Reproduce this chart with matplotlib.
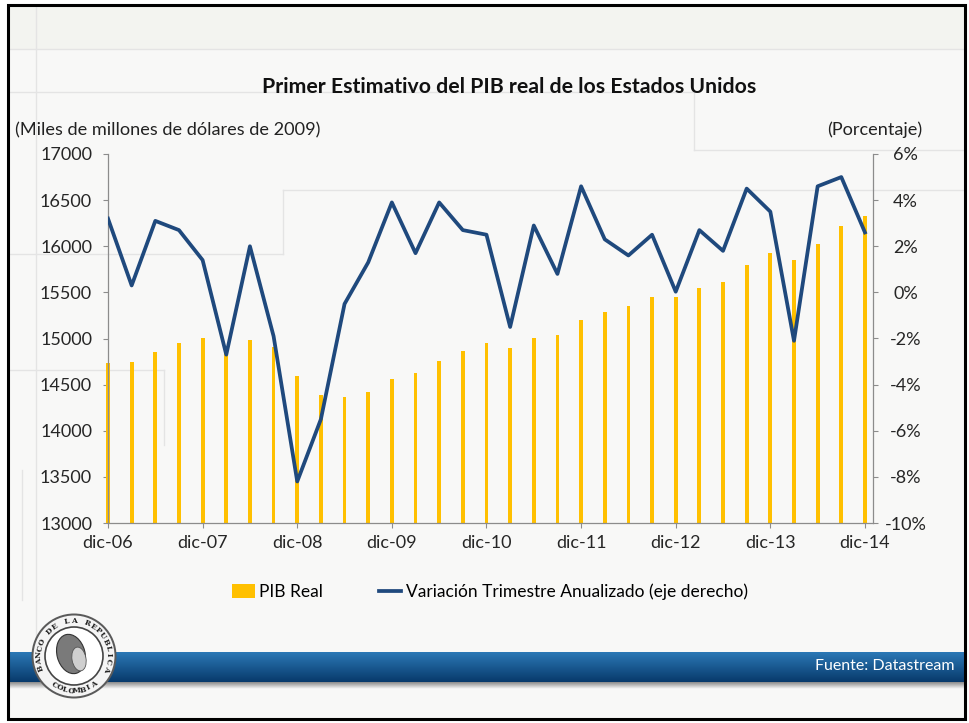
import matplotlib
matplotlib.use("Agg")
import matplotlib.pyplot as plt
import numpy as np
from matplotlib.patches import Rectangle, Circle, Ellipse, Patch
from matplotlib.lines import Line2D

# ---------------- data ----------------
pib_real = [14731, 14745, 14857, 14955, 15009, 14850, 14984, 14911, 14593, 14388,
            14369, 14417, 14561, 14623, 14760, 14865, 14955, 14894, 15009, 15038,
            15201, 15291, 15352, 15446, 15446, 15551, 15616, 15797, 15930, 15851,
            16024, 16220, 16328]
variacion = [3.2, 0.3, 3.1, 2.7, 1.4, -2.7, 2.0, -1.9, -8.2, -5.5,
             -0.5, 1.3, 3.9, 1.7, 3.9, 2.7, 2.5, -1.5, 2.9, 0.8,
             4.6, 2.3, 1.6, 2.5, 0.03, 2.7, 1.8, 4.5, 3.5, -2.1,
             4.6, 5.0, 2.6]
year_labels = ["dic-06", "dic-07", "dic-08", "dic-09", "dic-10",
               "dic-11", "dic-12", "dic-13", "dic-14"]
left_ticks = [13000, 13500, 14000, 14500, 15000, 15500, 16000, 16500, 17000]
right_ticks = [-10, -8, -6, -4, -2, 0, 2, 4, 6]

FONT = "Lato"
W, H = 969, 723
fig = plt.figure(figsize=(W / 100, H / 100), dpi=100)
fig.patch.set_facecolor("white")

# ---------------- background / decoration (pixel coordinates) ----------------
bg = fig.add_axes([0, 0, 1, 1], zorder=0)
bg.set_xlim(0, W)
bg.set_ylim(H, 0)
bg.axis("off")

bg.add_patch(Rectangle((8, 5), 957, 714, facecolor="#f8f8f7", edgecolor="none"))
bg.add_patch(Rectangle((9, 6), 955, 43, facecolor="#f3f4f0", edgecolor="none"))
faint = dict(color="#e4e4e4", lw=1.0)
for xs, ys in [([9, 964], [49, 49]), ([36, 36], [6, 640]),
               ([9, 694], [92, 92]), ([694, 694], [92, 150]), ([694, 964], [150, 150]),
               ([283, 964], [190, 190]), ([283, 283], [190, 254]), ([9, 283], [254, 254]),
               ([9, 164], [370, 370]), ([164, 164], [370, 445]), ([22, 22], [470, 600])]:
    bg.plot(xs, ys, **faint)

# blue band with vertical gradient
grad = np.linspace(0, 1, 64).reshape(-1, 1)
top_c = np.array([0x2b, 0x78, 0xb6]) / 255
bot_c = np.array([0x08, 0x3a, 0x6b]) / 255
img = top_c[None, None, :] * (1 - grad[..., None]) + bot_c[None, None, :] * grad[..., None]
bg.imshow(img, extent=[9, 964, 682, 652], aspect="auto", zorder=2)
shadow = np.linspace(0, 1, 16).reshape(-1, 1)
simg = np.ones((16, 1, 3)) * (0.55 + 0.42 * shadow[..., None])
bg.imshow(simg, extent=[9, 964, 689, 682], aspect="auto", zorder=1)
bg.set_xlim(0, W)
bg.set_ylim(H, 0)
bg.text(955, 666, "Fuente: Datastream", color="white", fontsize=11.5,
        family=FONT, ha="right", va="center", zorder=5)

# outer black frame
bg.add_patch(Rectangle((8, 5), 957, 714, facecolor="none", edgecolor="black",
                       lw=2.2, zorder=10))

# logo (seal)
cx, cy, R = 74, 656, 41
bg.add_patch(Circle((cx, cy), R + 1.5, facecolor="#5a5a5a", edgecolor="none", zorder=6))
bg.add_patch(Circle((cx, cy), R - 0.5, facecolor="#f4f4f4", edgecolor="none", zorder=6))
bg.add_patch(Circle((cx, cy), R - 12, facecolor="white", edgecolor="#444444", lw=1.2, zorder=6))
bg.add_patch(Ellipse((cx - 3, cy - 2), 28, 40, angle=-15, facecolor="#7a7a7a",
                     edgecolor="#333333", lw=0.8, zorder=7))
bg.add_patch(Ellipse((cx + 5, cy + 3), 14, 24, angle=-10, facecolor="#cfcfcf",
                     edgecolor="#555555", lw=0.6, zorder=7))


def arc_text(txt, a0, a1, r, top=True, size=5.4):
    angs = np.linspace(a0, a1, len(txt))
    for ch, a in zip(txt, angs):
        rad = np.deg2rad(a)
        xx = cx + r * np.cos(rad)
        yy = cy - r * np.sin(rad)
        rot = a - 90 if top else a + 90
        bg.text(xx, yy, ch, fontsize=size, rotation=rot, ha="center", va="center",
                family="DejaVu Serif", weight="bold", color="#222222", zorder=8)


arc_text("BANCO DE LA REPUBLICA", 200, -20, R - 6, top=True)
arc_text("COLOMBIA", 235, 305, R - 6, top=False)

# ---------------- chart ----------------
x = np.arange(len(pib_real))
ax = fig.add_axes([108 / W, 1 - 523 / H, (873 - 108) / W, (523 - 154) / H], zorder=3)
ax.patch.set_alpha(0)
bars = ax.bar(x, pib_real, width=0.16, color="#FFC000", zorder=2)
clip_rect = Rectangle((-1, 13000), 35, 4000, transform=ax.transData)
for b in bars:
    b.set_clip_path(clip_rect)
ax.set_ylim(13000, 17000)
ax.set_yticks(left_ticks)
ax.set_xlim(0, 32.34)
ax.set_xticks(x[::4])
ax.set_xticklabels(year_labels)

ax2 = ax.twinx()
ax2.plot(x, variacion, color="#1F497D", lw=2.7, zorder=3)
ax2.set_ylim(-10, 6)
ax2.set_yticks(right_ticks)
ax2.set_yticklabels([f"{v}%" for v in right_ticks])
ax2.set_xlim(0, 32.34)

spine_c = "#8c8c8c"
for a in (ax, ax2):
    a.spines["top"].set_visible(False)
    for s in ("left", "right", "bottom"):
        a.spines[s].set_color(spine_c)
        a.spines[s].set_linewidth(0.9)
ax2.spines["left"].set_visible(False)
ax2.spines["bottom"].set_visible(False)
ax.spines["right"].set_visible(False)

ax.tick_params(axis="y", direction="out", length=3.5, width=0.8, color=spine_c,
               pad=8, labelsize=13, labelcolor="#262626")
ax.tick_params(axis="x", direction="out", length=3.5, width=0.8, color=spine_c,
               pad=5, labelsize=13, labelcolor="#262626")
ax2.tick_params(axis="y", direction="out", length=3.5, width=0.8, color=spine_c,
                pad=20, labelsize=13, labelcolor="#262626")
for lab in ax.get_xticklabels() + ax.get_yticklabels() + ax2.get_yticklabels():
    lab.set_family(FONT)
for lab in ax2.get_yticklabels():
    lab.set_horizontalalignment("center")

# titles
fig.text(509 / W, 1 - 87 / H, "Primer Estimativo del PIB real de los Estados Unidos",
         ha="center", va="center", fontsize=15.3, weight="bold", family=FONT, color="#111111")
fig.text(15 / W, 1 - 130 / H, "(Miles de millones de dólares de 2009)",
         ha="left", va="center", fontsize=13.1, family=FONT, color="#222222")
fig.text(922 / W, 1 - 130 / H, "(Porcentaje)",
         ha="right", va="center", fontsize=13.1, family=FONT, color="#222222")

# legend
handles = [Patch(facecolor="#FFC000", edgecolor="none"),
           Line2D([], [], color="#1F497D", lw=2.7)]
fig.legend(handles, ["PIB Real", "Variación Trimestre Anualizado (eje derecho)"],
           loc="center", bbox_to_anchor=(490 / W, 1 - 592 / H), ncol=2, frameon=False,
           prop={"family": FONT, "size": 12.5}, handlelength=1.3, handleheight=0.9,
           handletextpad=0.25, columnspacing=3.2)

fig.savefig("out.png", dpi=100, facecolor=fig.get_facecolor())
